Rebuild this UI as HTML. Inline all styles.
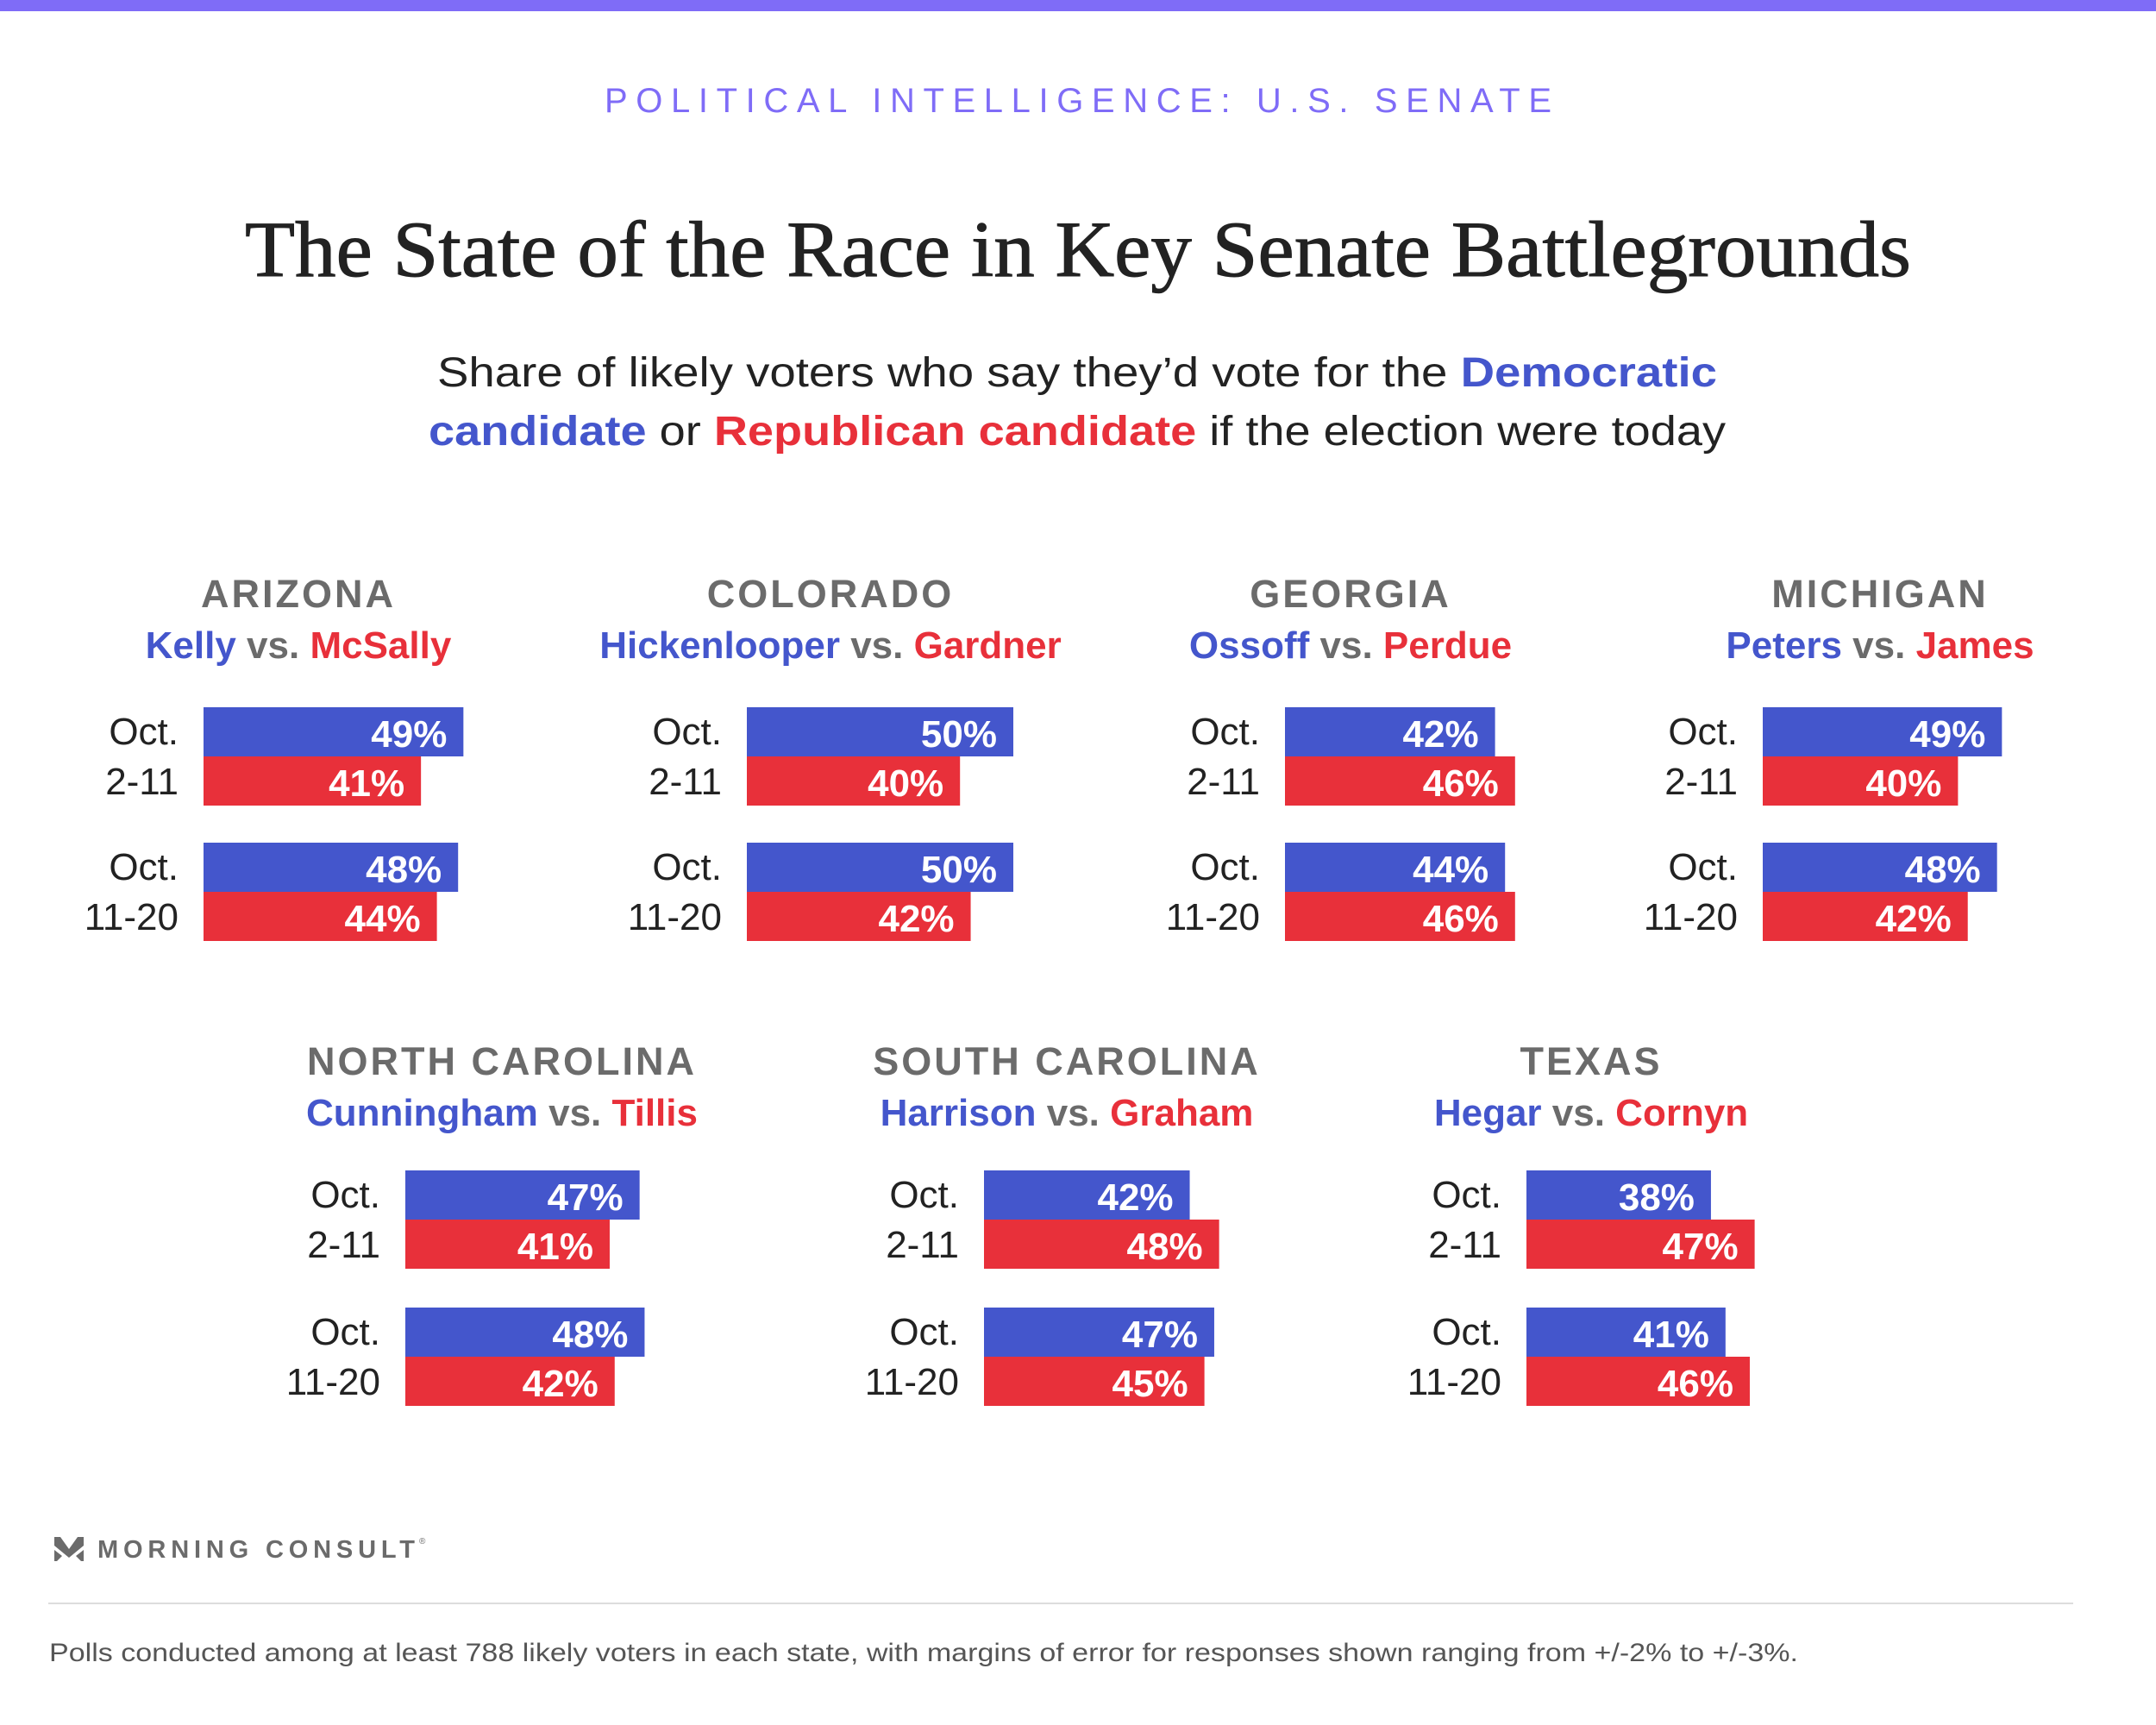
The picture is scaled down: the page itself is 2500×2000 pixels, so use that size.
<!DOCTYPE html>
<html><head><meta charset="utf-8"><style>
html,body{margin:0;padding:0;background:#fff}
svg{display:block}
</style></head><body>
<svg id="chart" width="2500" height="2000" viewBox="0 0 2500 2000" xmlns="http://www.w3.org/2000/svg" font-family="'Liberation Sans', sans-serif">
<rect x="0" y="0" width="2500" height="13" fill="#7f6cf7"/>
<text x="1250" y="130" text-anchor="middle" font-size="40" fill="#7f6cf7" textLength="1098" lengthAdjust="spacing">POLITICAL INTELLIGENCE: U.S. SENATE</text>
<text x="1250" y="320" text-anchor="middle" font-family="'Liberation Serif', serif" font-size="92" fill="#222" stroke="#222" stroke-width="1" textLength="1932" lengthAdjust="spacingAndGlyphs">The State of the Race in Key Senate Battlegrounds</text>
<text x="507" y="448" font-size="48" fill="#222" textLength="1484" lengthAdjust="spacingAndGlyphs">Share of likely voters who say they’d vote for the <tspan font-weight="bold" fill="#4456cc">Democratic</tspan></text>
<text x="497" y="516" font-size="48" fill="#222" textLength="1504" lengthAdjust="spacingAndGlyphs"><tspan font-weight="bold" fill="#4456cc">candidate</tspan> or <tspan font-weight="bold" fill="#e8303a">Republican candidate</tspan> if the election were today</text>
<g id="panels"></g>
<g>
<path d="M63 1782 L70 1782 L80 1796 L90 1782 L97 1782 L97 1792 L80 1806 L63 1792 Z" fill="#6b6b6b"/>
<path d="M63 1797 L72 1804 L66 1810 L63 1810 Z M97 1797 L88 1804 L94 1810 L97 1810 Z" fill="#6b6b6b"/>
<text x="113" y="1806" font-size="29" font-weight="bold" fill="#6b6b6b" textLength="368" lengthAdjust="spacing">MORNING CONSULT</text>
<text x="486" y="1790" font-size="10" fill="#6b6b6b">®</text>
</g>
<line x1="56" y1="1859" x2="2404" y2="1859" stroke="#ddd" stroke-width="2"/>
<text x="57" y="1926" font-size="30" fill="#555" textLength="2028" lengthAdjust="spacingAndGlyphs">Polls conducted among at least 788 likely voters in each state, with margins of error for responses shown ranging from +/-2% to +/-3%.</text>
</svg>
<script>
const states = ["ARIZONA","COLORADO","GEORGIA","MICHIGAN","NORTH CAROLINA","SOUTH CAROLINA","TEXAS"];
const demNames = ["Kelly","Hickenlooper","Ossoff","Peters","Cunningham","Harrison","Hegar"];
const repNames = ["McSally","Gardner","Perdue","James","Tillis","Graham","Cornyn"];
const periods = [["Oct.","2-11"],["Oct.","11-20"]];
const demOct2 = [49,50,42,49,47,42,38];
const repOct2 = [41,40,46,40,41,48,47];
const demOct11 = [48,50,44,48,48,47,41];
const repOct11 = [44,42,46,42,42,45,46];

// layout (not data)
const layout = [
  {cx:346,left:236,k:6.15,row:0},
  {cx:963,left:866,k:6.18,row:0},
  {cx:1566,left:1490,k:5.8,row:0},
  {cx:2180,left:2044,k:5.66,row:0},
  {cx:582,left:470,k:5.78,row:1},
  {cx:1237,left:1141,k:5.68,row:1},
  {cx:1845,left:1770,k:5.63,row:1}
];
const rows = [{state:704,names:763,g:[820,977]},{state:1246,names:1305,g:[1357,1516]}];
const BH = 57;
const NS = "http://www.w3.org/2000/svg";
const root = document.getElementById('panels');
function mk(tag, attrs, parent){const e=document.createElementNS(NS,tag);for(const a in attrs)e.setAttribute(a,attrs[a]);parent.appendChild(e);return e;}

states.forEach((st,i)=>{
  const L = layout[i], R = rows[L.row];
  const g = mk('g',{},root);
  
  
  const h = mk('text',{x:L.cx,y:R.state,'text-anchor':'middle','font-size':45,'font-weight':'bold',fill:'#6b6b6b','letter-spacing':'3'},g);
  h.textContent = st;
  
  
  const n = mk('text',{x:L.cx,y:R.names,'text-anchor':'middle','font-size':44,'font-weight':'bold'},g);
  
  
  const t1 = mk('tspan',{fill:'#4456cc'},n); t1.textContent = demNames[i];
  const t2 = mk('tspan',{fill:'#6b6b6b'},n); t2.textContent = ' vs. ';
  const t3 = mk('tspan',{fill:'#e8303a'},n); t3.textContent = repNames[i];
  const vals = [[demOct2[i],repOct2[i]],[demOct11[i],repOct11[i]]];
  vals.forEach((pair,j)=>{
    const y0 = R.g[j];
    const d1 = mk('text',{x:L.left-29,y:y0+43,'text-anchor':'end','font-size':44,fill:'#222'},g);
    d1.textContent = periods[j][0];
    
    
    const d2 = mk('text',{x:L.left-29,y:y0+101,'text-anchor':'end','font-size':44,fill:'#222'},g);
    d2.textContent = periods[j][1];
    
    
    pair.forEach((v,p)=>{
      const w = v*L.k, y = y0 + p*BH;
      const b = mk('rect',{x:L.left,y:y,width:w,height:BH,fill:p===0?'#4456cc':'#e8303a'},g);
      
      
      const lb = mk('text',{x:L.left+w-19,y:y+46,'text-anchor':'end','font-size':44,'font-weight':'bold',fill:'#fff'},g);
      lb.textContent = v+'%';
      
      
    });
  });
});
</script>
</body></html>
